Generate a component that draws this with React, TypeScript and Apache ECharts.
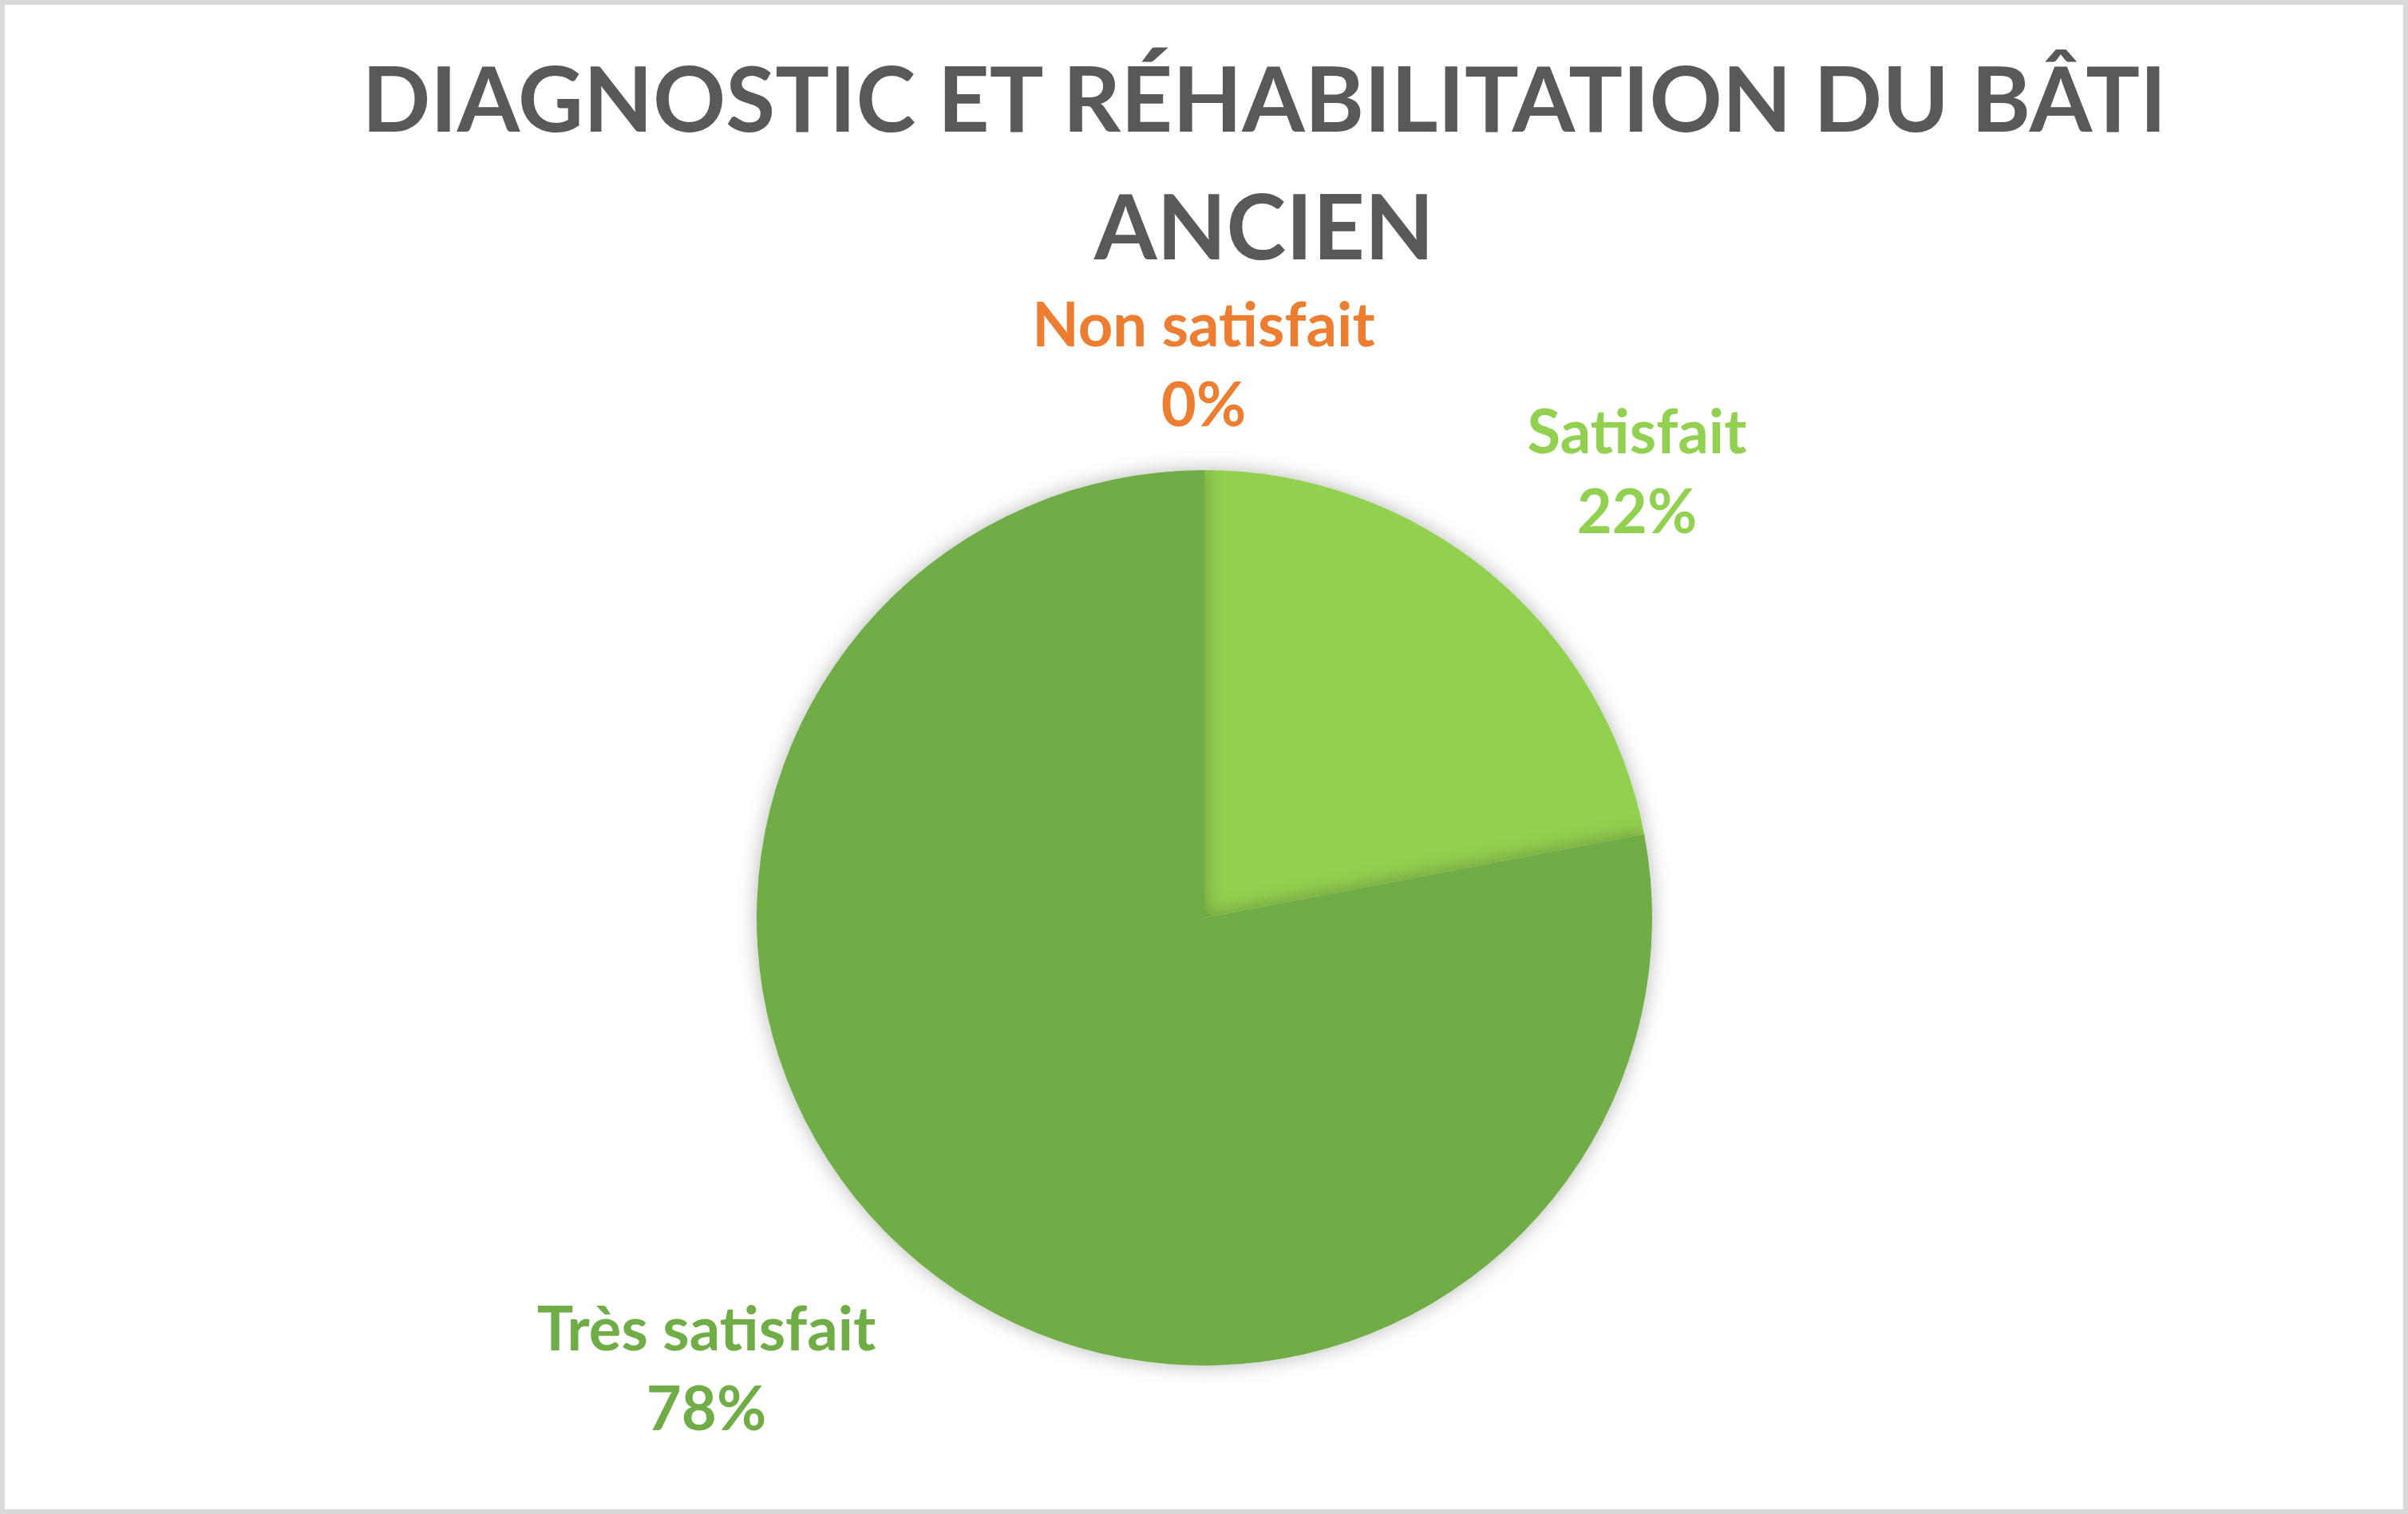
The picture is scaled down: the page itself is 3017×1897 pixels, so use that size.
import React, { useEffect, useRef } from "react";
import * as echarts from "echarts";

const categories = ["Non satisfait", "Satisfait", "Très satisfait"];
const values = [0, 22, 78];
const colors = ["#ED7D31", "#92D050", "#70AD47"];
const titleLines = ["DIAGNOSTIC ET RÉHABILITATION DU BÂTI", "ANCIEN"];

const W = 3017;
const H = 1897;
const FONT = "Lato, 'Open Sans', sans-serif";

// label block centres (pixels)
const labelPos = [
  { x: 1508, y: 454 },
  { x: 2051, y: 588 },
  { x: 885, y: 1712 },
];

export default function App() {
  const ref = useRef<HTMLDivElement>(null);
  useEffect(() => {
    if (!ref.current) return;
    const chart = echarts.init(ref.current, undefined, { renderer: "svg" });
    const titleStyle = (text: string) => ({
      text,
      font: `bold 113px ${FONT}`,
      fill: "#595959",
      textAlign: "center",
      textVerticalAlign: "middle",
      align: "center",
      verticalAlign: "middle",
    });
    chart.setOption({
      animation: false,
      backgroundColor: "#FFFFFF",
      graphic: [
        {
          type: "rect",
          shape: { x: 3, y: 3, width: W - 6, height: H - 6 },
          style: { fill: "none", stroke: "#D9D9D9", lineWidth: 6 },
          silent: true,
        },
        { type: "text", x: 1584, y: 121, style: titleStyle(titleLines[0]) },
        { type: "text", x: 1584, y: 281, style: titleStyle(titleLines[1]) },
      ],
      series: [
        {
          type: "pie",
          center: [1509, 1150],
          radius: 561,
          startAngle: 90,
          clockwise: true,
          avoidLabelOverlap: false,
          itemStyle: {
            shadowBlur: 24,
            shadowColor: "rgba(0,0,0,0.28)",
            shadowOffsetX: 0,
            shadowOffsetY: 0,
          },
          label: {
            show: true,
            position: "outside",
            fontFamily: FONT,
            fontWeight: "bold",
            fontSize: 76,
            lineHeight: 100,
            formatter: (p: any) => `${p.name}\n${Math.round(p.percent)}%`,
          },
          labelLine: { show: false },
          labelLayout: (params: any) => {
            const pos = labelPos[params.dataIndex];
            return { x: pos.x, y: pos.y, align: "center", verticalAlign: "middle" };
          },
          emphasis: { disabled: true },
          data: categories.map((c, i) => ({
            name: c,
            value: values[i],
            itemStyle: { color: colors[i] },
            label: { color: colors[i] },
          })),
        },
      ],
    });
    return () => chart.dispose();
  }, []);
  return (
    <div
      ref={ref}
      style={{ position: "absolute", left: 0, top: 0, width: W, height: H }}
    />
  );
}
